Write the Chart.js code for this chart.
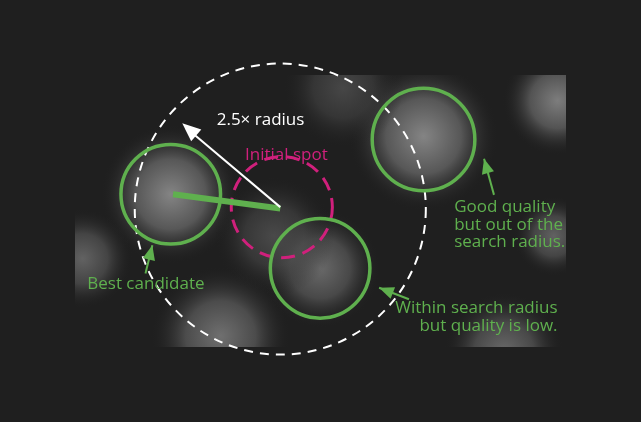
<!DOCTYPE html>
<html><head><meta charset="utf-8">
<script src="https://cdn.jsdelivr.net/npm/chart.js@4"></script>
<style>html,body{margin:0;padding:0;background:#1e1e1e}#w{width:641px;height:422px}</style>
</head><body><div id="w"><canvas id="c"></canvas></div>
<script>
// background spots [x, y, radius, brightness]
const spots = [[125,185,70,0.55],[455,95,75,0.55],[320,300,60,0.35],[630,40,55,0.5],[625,250,40,0.3],[190,405,70,0.4],[10,285,50,0.3],[560,430,60,0.35],[260,250,60,0.12],[350,20,60,0.1]];
// green candidate circles [x, y, r]
const candidates = [[125,185,65],[455,100,67],[320,300,65]];
// dashed circles [x, y, r, color]
const dashed = [[268,208,190,'#ffffff'],[270,205,66,'#d0207c']];
const bestLine = [[128,185],[268,207]];
const radiusArrow = [[268,205],[140,75]];
const greenArrows = [[[547,186],[534,130]],[[92,308],[101,264]],[[436,348],[397,330]]];
const labels = [
 {t:'2.5× radius',x:185,y:70,c:'#ffffff',a:'left'},
 {t:'Initial spot',x:276,y:125,c:'#d0207c',a:'center'},
 {t:'Good quality',x:495,y:205,c:'#5fb04e',a:'left'},
 {t:'but out of the',x:495,y:233,c:'#5fb04e',a:'left'},
 {t:'search radius.',x:495,y:260,c:'#5fb04e',a:'left'},
 {t:'Best candidate',x:16,y:325,c:'#5fb04e',a:'left'},
 {t:'Within search radius',x:630,y:362,c:'#5fb04e',a:'right'},
 {t:'but quality is low.',x:630,y:390,c:'#5fb04e',a:'right'}
];
const G='#5fb04e';
function head(ctx,x1,y1,x2,y2,col,len){
  const a=Math.atan2(y2-y1,x2-x1);
  ctx.fillStyle=col;ctx.beginPath();ctx.moveTo(x2,y2);
  ctx.lineTo(x2-len*Math.cos(a-0.4),y2-len*Math.sin(a-0.4));
  ctx.lineTo(x2-len*Math.cos(a+0.4),y2-len*Math.sin(a+0.4));ctx.closePath();ctx.fill();
}
const overlay={id:'ov',
 beforeDatasetsDraw(ch){const c=ch.ctx;c.save();c.fillStyle='#1f1f1f';c.fillRect(0,0,ch.width,ch.height);c.restore();},
 afterDatasetsDraw(ch){
  const c=ch.ctx,X=v=>ch.scales.x.getPixelForValue(v),Y=v=>ch.scales.y.getPixelForValue(v),R=r=>Math.abs(X(r)-X(0));
  c.save();
  dashed.forEach(d=>{c.strokeStyle=d[3];c.lineWidth=d[3]=='#ffffff'?2:3;c.setLineDash(d[3]=='#ffffff'?[9,7]:[14,8]);c.beginPath();c.arc(X(d[0]),Y(d[1]),R(d[2]),0,Math.PI*2);c.stroke();});
  c.setLineDash([]);
  candidates.forEach(d=>{c.strokeStyle=G;c.lineWidth=3.5;c.beginPath();c.arc(X(d[0]),Y(d[1]),R(d[2]),0,Math.PI*2);c.stroke();});
  c.strokeStyle=G;c.lineWidth=6;c.beginPath();c.moveTo(X(bestLine[0][0]),Y(bestLine[0][1]));c.lineTo(X(bestLine[1][0]),Y(bestLine[1][1]));c.stroke();
  let [p,q]=radiusArrow;c.strokeStyle='#fff';c.lineWidth=2;c.beginPath();c.moveTo(X(p[0]),Y(p[1]));c.lineTo(X(q[0])+8,Y(q[1])+8);c.stroke();
  head(c,X(p[0]),Y(p[1]),X(q[0]),Y(q[1]),'#fff',20);
  greenArrows.forEach(([p,q])=>{c.strokeStyle=G;c.lineWidth=2;c.beginPath();c.moveTo(X(p[0]),Y(p[1]));c.lineTo(X(q[0]),Y(q[1]));c.stroke();head(c,X(p[0]),Y(p[1]),X(q[0]),Y(q[1]),G,16);});
  c.font='17px "Open Sans", sans-serif';c.textBaseline='middle';
  labels.forEach(l=>{c.fillStyle=l.c;c.textAlign=l.a;c.fillText(l.t,X(l.x),Y(l.y));});
  c.restore();
 }};
new Chart(document.getElementById('c'),{
 type:'bubble',
 data:{datasets:[{data:spots.map(s=>({x:s[0],y:s[1],r:s[2],b:s[3]})),
  borderWidth:0,
  backgroundColor(ctx){
   const raw=ctx.raw, sc=ctx.chart.scales;
   if(!raw||!sc||!sc.x||!sc.y) return 'rgba(0,0,0,0)';
   const px=sc.x.getPixelForValue(raw.x), py=sc.y.getPixelForValue(raw.y);
   if(!isFinite(px)||!isFinite(py)) return 'rgba(0,0,0,0)';
   const g=ctx.chart.ctx.createRadialGradient(px,py,0,px,py,raw.r);
   const v=Math.round(60+150*raw.b);
   g.addColorStop(0,`rgba(${v},${v},${v},0.9)`);g.addColorStop(0.5,`rgba(${v},${v},${v},0.5)`);g.addColorStop(1,'rgba(31,31,31,0)');
   return g;}}]},
 options:{responsive:true,maintainAspectRatio:false,animation:false,
  layout:{padding:0},
  plugins:{legend:{display:false},tooltip:{enabled:false}},
  scales:{x:{type:'linear',min:0,max:641,display:false},y:{type:'linear',min:0,max:422,reverse:true,display:false}},
  elements:{point:{hoverRadius:0}}},
 plugins:[overlay]});
</script></body></html>
